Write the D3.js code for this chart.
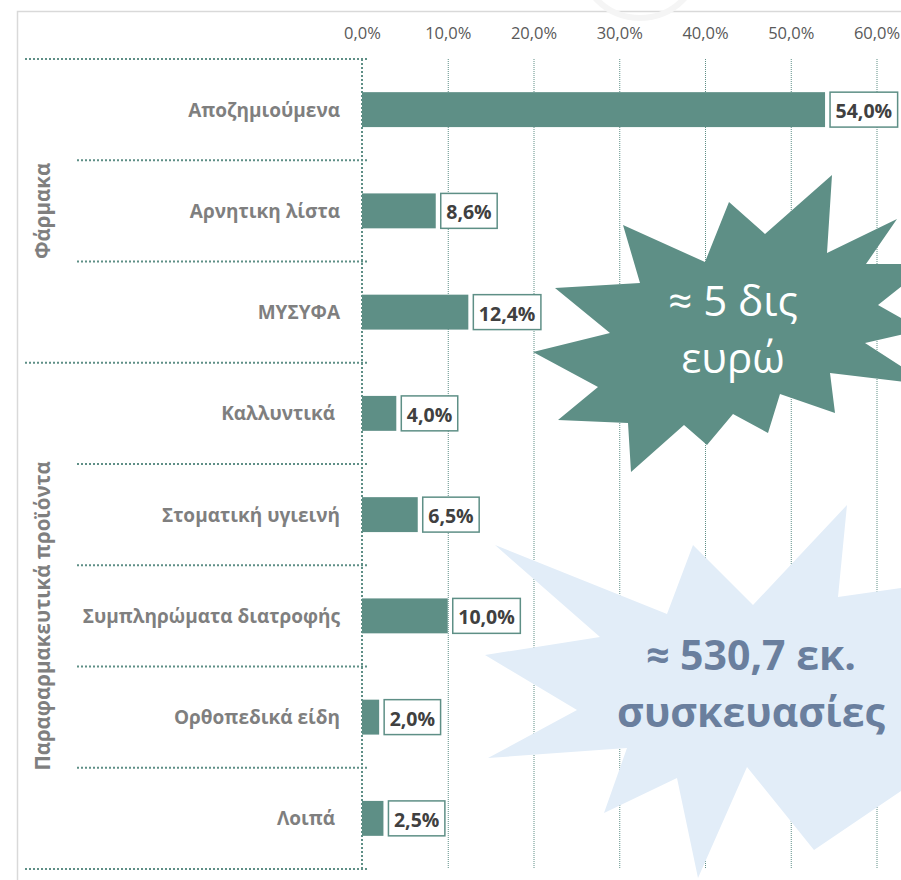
<!DOCTYPE html>
<html lang="el">
<head>
	<meta charset="UTF-8">
	<title>bar chart</title>
	<style>
		* { margin: 0; padding: 0; }
		body { background: #fff; }
		svg { display: block; }
		text { font-family: "Open Sans", "Noto Sans", sans-serif; white-space: pre; }
	</style>
</head>
<body>
	<script src="https://cdn.jsdelivr.net/npm/d3@7"></script>
	<script>
		var groups = ['Φάρμακα', 'Παραφαρμακευτικά προϊόντα'];
		var categories = ['Αποζημιούμενα', 'Αρνητικη λίστα', 'ΜΥΣΥΦΑ', 'Καλλυντικά ', 'Στοματική υγιεινή',
			'Συμπληρώματα διατροφής', 'Ορθοπεδικά είδη', 'Λοιπά '];
		var groupOf = [0, 0, 0, 1, 1, 1, 1, 1];
		var values = [54.0, 8.6, 12.4, 4.0, 6.5, 10.0, 2.0, 2.5];
		var ticks = [0, 10, 20, 30, 40, 50, 60];

		// διακοσμητικά αστέρια (σχήματα, όχι δεδομένα)
		var starGreen = [[623,225],[705,262],[729,202],[765,234],[832,175],[827,253],[897,219],[866,264],[930,264],
			[878,305],[922,330],[865,343],[930,385],[830,373],[835,413],[780,394],[768,433],[733,414],[707,445],
			[684,425],[631,472],[628,423],[558,420],[598,387],[533,352],[610,333],[555,288],[640,283]];
		var starBlue = [[495,545],[667,614],[693,545],[753,605],[847,505],[838,597],[935,583],[960,680],[935,768],
			[814,850],[747,767],[698,878],[677,778],[604,813],[627,748],[488,758],[577,710],[485,655],[600,637]];

		var width = 901, height = 880;
		var teal = '#5e8f86';

		var svg = d3.select('body').append('svg').attr('width', width).attr('height', height);

		// πλαίσιο
		svg.append('path').attr('d', 'M17.5,880 V11.5 H901')
			.attr('fill', 'none').attr('stroke', '#d9d9d9').attr('stroke-width', 1.5);
		// αχνό υδατογράφημα
		svg.append('circle').attr('cx', 640).attr('cy', -42).attr('r', 60)
			.attr('fill', 'none').attr('stroke', '#f5f5f5').attr('stroke-width', 6);

		var xScale = d3.scaleLinear().domain([0, 60]).range([362, 876.5]);
		var yScale = d3.scaleBand().domain(categories).range([59, 869]).paddingInner(0.655).paddingOuter(0.3275);
		var step = yScale.step();
		var bw = yScale.bandwidth();

		// κάθετες γραμμές πλέγματος
		svg.append('g').selectAll('line').data(ticks.slice(1)).enter().append('line')
			.attr('x1', function (d) { return xScale(d) + 0.5; })
			.attr('x2', function (d) { return xScale(d) + 0.5; })
			.attr('y1', 59).attr('y2', 869)
			.attr('stroke', teal).attr('stroke-width', 1).attr('stroke-dasharray', '1,1');

		// άξονας x
		var xAxis = svg.append('g').attr('transform', 'translate(0,59)')
			.call(d3.axisTop(xScale).tickValues(ticks).tickSize(0).tickPadding(20)
				.tickFormat(function (d) { return d.toFixed(1).replace('.', ',') + '%'; }));
		xAxis.select('.domain').remove();
		xAxis.selectAll('text').style('font-size', '16.5px').attr('fill', '#595959')
			.style('font-family', '"Open Sans", sans-serif');

		// οριζόντιες διαχωριστικές γραμμές
		var seps = [];
		seps.push({ y: yScale.range()[0], major: true });
		categories.forEach(function (c, i) {
			var yb = yScale(c) + bw + (step - bw) / 2;
			var major = i === categories.length - 1 || groupOf[i] !== groupOf[i + 1];
			seps.push({ y: yb, major: major });
		});
		svg.append('g').selectAll('line').data(seps).enter().append('line')
			.attr('x1', function (d) { return d.major ? 25 : 77; })
			.attr('x2', 369)
			.attr('y1', function (d) { return d.y; }).attr('y2', function (d) { return d.y; })
			.attr('stroke', teal).attr('stroke-width', 2).attr('stroke-dasharray', '2,2');

		// γραμμή του 0
		svg.append('line').attr('x1', xScale(0)).attr('x2', xScale(0)).attr('y1', 59).attr('y2', 869)
			.attr('stroke', teal).attr('stroke-width', 2).attr('stroke-dasharray', '2,2');

		// ράβδοι
		svg.append('g').selectAll('rect').data(values).enter().append('rect')
			.attr('x', xScale(0))
			.attr('y', function (d, i) { return yScale(categories[i]); })
			.attr('width', function (d) { return xScale(d) - xScale(0); })
			.attr('height', bw)
			.attr('fill', teal);

		// ετικέτες κατηγοριών
		svg.append('g').selectAll('text').data(categories).enter().append('text')
			.attr('x', 340)
			.attr('y', function (d) { return yScale(d) + bw / 2; })
			.attr('text-anchor', 'end').attr('dominant-baseline', 'central')
			.style('font-size', '19px').style('font-weight', 'bold').attr('fill', '#7f7f7f')
			.text(function (d) { return d; });

		// ετικέτες ομάδων
		groups.forEach(function (g, gi) {
			var idx = groupOf.map(function (v, i) { return v === gi ? i : -1; }).filter(function (i) { return i >= 0; });
			var y0 = yScale(categories[idx[0]]) - (step - bw) / 2;
			var y1 = yScale(categories[idx[idx.length - 1]]) + bw + (step - bw) / 2;
			svg.append('text')
				.attr('transform', 'translate(42,' + ((y0 + y1) / 2) + ') rotate(-90)')
				.attr('text-anchor', 'middle').attr('dominant-baseline', 'central')
				.style('font-size', '20.5px').style('font-weight', 'bold').attr('fill', '#7f7f7f')
				.text(g);
		});

		// ετικέτες τιμών
		var lab = svg.append('g').selectAll('g').data(values).enter().append('g');
		lab.append('rect');
		lab.append('text')
			.attr('dominant-baseline', 'central').attr('text-anchor', 'middle')
			.style('font-size', '19.5px').style('font-weight', 'bold').attr('fill', '#404040')
			.text(function (d) { return d.toFixed(1).replace('.', ',') + '%'; });
		lab.each(function (d, i) {
			var g = d3.select(this);
			var t = g.select('text');
			var tw = t.node().getComputedTextLength();
			var bx = xScale(d) + 5;
			var by = yScale(categories[i]);
			g.select('rect').attr('x', bx).attr('y', by).attr('width', tw + 11).attr('height', bw)
				.attr('fill', '#fff').attr('stroke', teal).attr('stroke-width', 1.5);
			t.attr('x', bx + (tw + 11) / 2).attr('y', by + bw / 2 + 1);
		});

		// αστέρια
		var line = d3.line().curve(d3.curveLinearClosed);
		svg.append('path').attr('d', line(starGreen)).attr('fill', teal);
		svg.append('text').attr('x', 733).attr('y', 316).attr('text-anchor', 'middle')
			.style('font-size', '42px').attr('fill', '#fff').text('≈ 5 δις');
		svg.append('text').attr('x', 733).attr('y', 373).attr('text-anchor', 'middle')
			.style('font-size', '42px').attr('fill', '#fff').text('ευρώ');

		svg.append('path').attr('d', line(starBlue)).attr('fill', '#e2edf8');
		svg.append('text').attr('x', 751).attr('y', 670).attr('text-anchor', 'middle')
			.style('font-size', '41px').style('font-weight', 'bold').attr('fill', '#6a7f9e').text('≈ 530,7 εκ.');
		svg.append('text').attr('x', 751).attr('y', 727).attr('text-anchor', 'middle')
			.style('font-size', '41px').style('font-weight', 'bold').attr('fill', '#6a7f9e').text('συσκευασίες');
	</script>
</body>
</html>
